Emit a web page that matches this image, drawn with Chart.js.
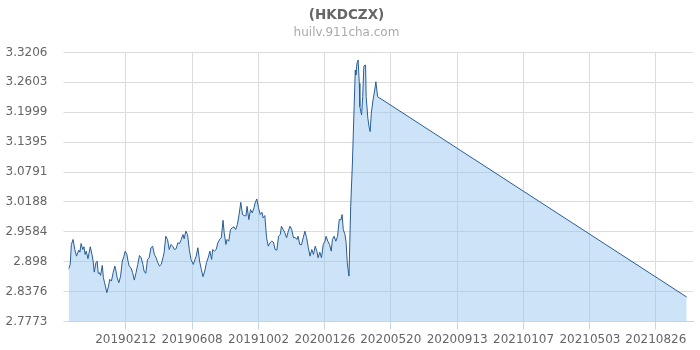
<!DOCTYPE html>
<html><head><meta charset="utf-8">
<script src="https://cdn.jsdelivr.net/npm/chart.js@4"></script>
<style>html,body{margin:0;padding:0;background:#fff}#wrap{width:700px;height:350px;position:relative}</style>
</head><body><div id="wrap"><canvas id="c"></canvas></div>
<script>
const titleText = '(HKDCZX)';
const subtitleText = 'huilv.911cha.com';
const startDate = '20181104';
const dayOffsets = [0,3,5,8,11,14,18,20,22,25,
27,29,31,34,38,41,43,45,48,50,
52,54,56,59,61,63,67,70,72,75,
78,81,83,85,88,91,94,97,99,102,
104,106,109,112,115,118,121,124,127,130,
132,135,138,141,144,147,150,153,156,159,
162,165,167,170,173,176,179,182,185,188,
191,194,197,200,202,205,208,211,214,218,
220,223,226,229,232,235,238,241,244,247,
250,252,255,258,261,264,267,270,272,275,
277,280,283,286,289,292,295,298,301,304,
307,310,312,315,318,321,324,326,329,332,
335,338,340,343,346,349,352,355,358,361,
364,367,370,372,375,378,381,384,387,390,
393,396,399,401,404,407,410,413,416,419,
422,425,428,431,434,436,439,442,445,448,
450,453,456,459,461,464,467,470,473,476,
478,480,483,485,487,490,493,496,499,501,
502,504,506,508,509,512,514,516,519,520,
523,525,527,529,532,535,537,540,1080];
const rates = [2.8825,2.8925,2.9328,2.9429,2.9227,2.9092,2.9213,2.9173,2.9348,2.9227,
2.9282,2.9127,2.9193,2.9040,2.9282,2.9127,2.8992,2.8770,2.8960,2.8992,
2.8744,2.8758,2.8704,2.8905,2.8658,2.8557,2.8356,2.8489,2.8624,2.8589,
2.8758,2.8891,2.8791,2.8658,2.8557,2.8690,2.8992,2.9092,2.9193,2.9127,
2.8992,2.8891,2.8859,2.8758,2.8609,2.8758,2.8925,2.9106,2.9060,2.8925,
2.8791,2.8744,2.9026,2.9060,2.9262,2.9294,2.9127,2.9060,2.8960,2.8891,
2.8925,2.9060,2.9161,2.9495,2.9429,2.9227,2.9328,2.9294,2.9227,2.9241,
2.9362,2.9348,2.9429,2.9529,2.9443,2.9596,2.9529,2.9227,2.9026,2.8925,
2.8992,2.9092,2.9262,2.8992,2.8825,2.8678,2.8791,2.8960,2.9060,2.9193,
2.9026,2.9227,2.9193,2.9227,2.9362,2.9429,2.9463,2.9817,2.9563,2.9328,
2.9429,2.9394,2.9630,2.9664,2.9684,2.9630,2.9730,2.9932,3.0179,2.9932,
2.9912,2.9905,3.0099,2.9831,3.0032,2.9966,3.0067,3.0167,3.0248,3.0067,
2.9932,2.9978,2.9865,2.9912,2.9463,2.9294,2.9362,2.9394,2.9374,2.9227,
2.9213,2.9495,2.9529,2.9696,2.9630,2.9563,2.9463,2.9596,2.9696,2.9630,
2.9463,2.9470,2.9429,2.9495,2.9328,2.9320,2.9463,2.9596,2.9463,2.9262,
2.9092,2.9227,2.9127,2.9294,2.9187,2.9060,2.9173,2.9060,2.9328,2.9394,
2.9495,2.9394,2.9328,2.9193,2.9429,2.9495,2.9394,2.9490,2.9831,2.9825,
2.9932,2.9630,2.9529,2.9362,2.8960,2.8690,3.0099,3.0972,3.2111,3.2850,
3.2749,3.2985,3.3051,3.2582,3.2111,3.1944,3.2312,3.2930,3.2950,3.2312,
3.1878,3.1709,3.1608,3.1978,3.2246,3.2447,3.2614,3.2312,2.8267];
const xTickDates = ['20190212','20190608','20191002','20200126','20200520','20200913','20210107','20210503','20210826'];
const yTickLabels = ['3.3206','3.2603','3.1999','3.1395','3.0791','3.0188','2.9584','2.898','2.8376','2.7773'];

function toDay(s){
  return Date.UTC(+s.slice(0,4), +s.slice(4,6)-1, +s.slice(6,8)) / 86400000;
}
const day0 = toDay(startDate);
const xTickDays = xTickDates.map(s => toDay(s) - day0);
const yTickValues = yTickLabels.map(Number);
const yAsc = yTickValues.slice().sort((a,b)=>a-b);
const points = dayOffsets.map((d,i) => ({x:d, y:rates[i]}));

Chart.defaults.font.family = "'DejaVu Sans', sans-serif";

new Chart(document.getElementById('c'), {
  type: 'line',
  data: { datasets: [{
    data: points,
    borderColor: '#2a5d96',
    borderWidth: 1,
    backgroundColor: 'rgba(145,196,240,0.46)',
    fill: 'start',
    pointRadius: 0,
    tension: 0
  }]},
  options: {
    responsive: true,
    maintainAspectRatio: false,
    animation: false,
    devicePixelRatio: 1,
    layout: { padding: { left: 0, right: 7, top: 0, bottom: 0 } },
    plugins: {
      legend: { display: false },
      tooltip: { enabled: false },
      title: { display: true, text: titleText, color: '#666',
        font: { size: 13.5, weight: 'bold' }, padding: { top: 7, bottom: 2.5 } },
      subtitle: { display: true, text: subtitleText, color: '#aaa',
        font: { size: 12 }, padding: { top: 0, bottom: 12.3 } }
    },
    scales: {
      x: {
        type: 'linear', min: 0, max: 1091,
        afterBuildTicks: s => { s.ticks = xTickDays.map(v => ({value: v})); },
        afterFit: s => { s.height = 28.5; },
        ticks: {
          autoSkip: false, maxRotation: 0, padding: 3, color: '#666',
          font: { size: 12 },
          callback: v => xTickDates[xTickDays.indexOf(v)]
        },
        grid: { color: '#dcdcdc', tickLength: 8, tickColor: '#c9d6e3' },
        border: { color: '#c9d6e3' }
      },
      y: {
        min: 2.7773, max: 3.3206,
        afterBuildTicks: s => { s.ticks = yAsc.map(v => ({value: v})); },
        afterFit: s => { s.width = 68.5; },
        ticks: {
          padding: 16, color: '#666', font: { size: 12 },
          callback: v => yTickLabels[yTickValues.indexOf(v)]
        },
        grid: { color: '#dcdcdc', tickLength: 5 },
        border: { display: false }
      }
    }
  }
});
</script>
</body></html>
